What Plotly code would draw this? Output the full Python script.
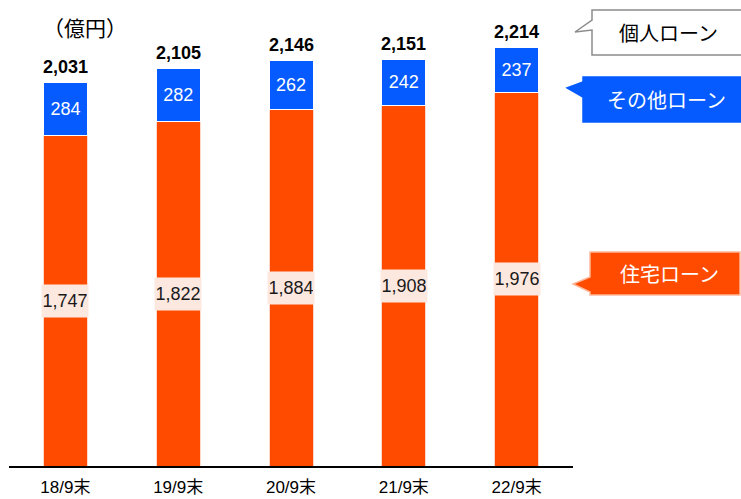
import plotly.graph_objects as go

# Loan balances at each September-end (unit: 100 million yen)
periods = ["18/9末", "19/9末", "20/9末", "21/9末", "22/9末"]
housing = [1747, 1822, 1884, 1908, 1976]
other = [284, 282, 262, 242, 237]
totals = [2031, 2105, 2146, 2151, 2214]

ORANGE = "#FF4B00"
BLUE = "#055BFF"
FONT = "Liberation Sans, Arial, Noto Sans CJK JP"
JP = "Noto Sans CJK JP, Liberation Sans"

W, H = 741, 499
ML, MR, MT, MB = 9, 168, 10, 33
PW, PH = W - ML - MR, H - MT - MB
YMAX = 2412


def px(x):
    return (x - ML) / PW


def py(y):
    return (H - MB - y) / PH


fig = go.Figure()
fig.add_trace(go.Bar(
    x=periods, y=housing, marker=dict(color=ORANGE, line=dict(color="#FFD8C8", width=1)),
    hoverinfo="skip",
))
fig.add_trace(go.Bar(
    x=periods, y=other, marker=dict(color=BLUE, line=dict(color="#FFFFFF", width=1)),
    text=[f"{v:,}" for v in other], textposition="inside", insidetextanchor="middle",
    textfont=dict(color="white", size=18, family=FONT), hoverinfo="skip",
))

annotations = []
for p, h, t in zip(periods, housing, totals):
    # housing value in a light dotted box at the middle of the orange segment
    annotations.append(dict(
        x=p, y=h / 2, text=f"{h:,}", showarrow=False, width=44, height=30,
        bgcolor="#FDE8DF", font=dict(size=18, color="#1a1a1a", family=FONT),
        xanchor="center", yanchor="middle",
    ))
    # total on top of each stacked bar
    annotations.append(dict(
        x=p, y=t, text=f"<b>{t:,}</b>", showarrow=False, yanchor="bottom", yshift=3,
        font=dict(size=18, color="black", family=FONT),
    ))

annotations.append(dict(
    xref="paper", yref="paper", x=px(85), y=py(27), text="（億円）", showarrow=False,
    xanchor="center", yanchor="middle", font=dict(size=21, color="black", family=JP),
))

# Legend callouts on the right
callouts = [
    ("個人ローン", 668, 32, "black",
     "M592,10 L745,10 L745,55 L592,55 L592,30 L575,32 L592,20 Z", "white", "#8c8c8c"),
    ("その他ローン", 666, 100, "white",
     "M583,77 L745,77 L745,122 L583,122 L583,97 L567,88 L583,82 Z", BLUE, BLUE),
    ("住宅ローン", 669, 273, "white",
     "M590,252 L740,252 L740,295 L590,295 L590,292 L573,284 L590,277 Z", ORANGE, "#FFB89A"),
]

shapes = []
for label, cx, cy, tc, path, fill, edge in callouts:
    pts = []
    for tok in path.replace("Z", "").split():
        cmd, xy = tok[0], tok[1:]
        x, y = (float(v) for v in xy.split(","))
        pts.append(f"{cmd}{px(x):.5f},{py(y):.5f}")
    shapes.append(dict(
        type="path", xref="paper", yref="paper", path=" ".join(pts) + " Z",
        fillcolor=fill, line=dict(color=edge, width=1.5), layer="above",
    ))
    annotations.append(dict(
        xref="paper", yref="paper", x=px(cx), y=py(cy), text=label, showarrow=False,
        xanchor="center", yanchor="middle", font=dict(size=20, color=tc, family=JP),
    ))

fig.update_layout(
    width=W, height=H, margin=dict(l=ML, r=MR, t=MT, b=MB, autoexpand=False),
    barmode="stack", bargap=0.61, showlegend=False,
    plot_bgcolor="white", paper_bgcolor="white",
    annotations=annotations, shapes=shapes,
    xaxis=dict(showline=True, linecolor="black", linewidth=2, ticks="",
               tickfont=dict(size=17, color="black", family=FONT),
               ticklabelstandoff=5, showgrid=False, fixedrange=True, automargin=False),
    yaxis=dict(range=[0, YMAX], visible=False, showgrid=False, fixedrange=True,
               automargin=False),
    uniformtext=dict(mode=False),
)

fig.write_html("out.html", config={"displayModeBar": False})
